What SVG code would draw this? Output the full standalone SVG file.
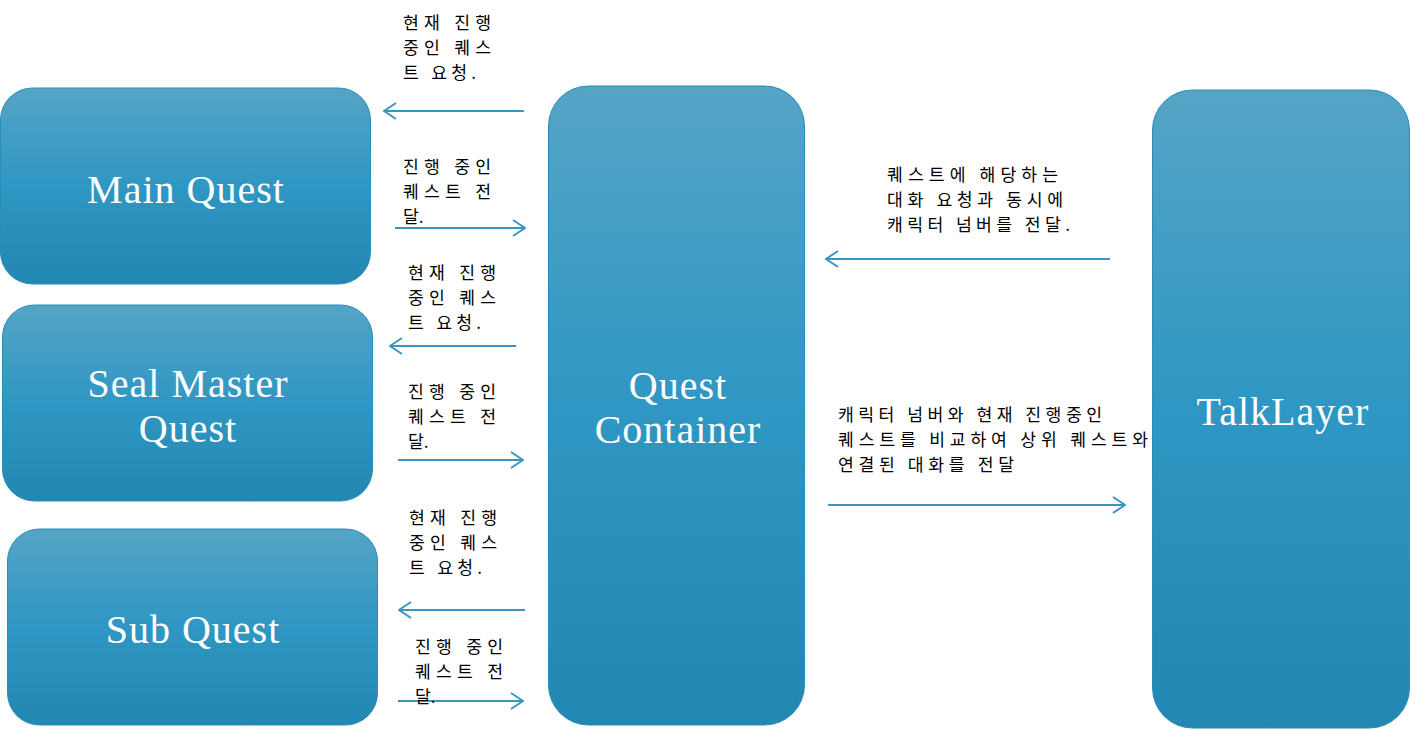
<svg xmlns="http://www.w3.org/2000/svg" width="1410" height="730" viewBox="0 0 1410 730">
<style>
.box{fill:url(#g);stroke:#2a8db8;stroke-width:1}
.lbl{font-family:"Liberation Serif","DejaVu Serif",serif;font-size:40px;letter-spacing:1px;fill:#ffffff;text-anchor:middle}
.note{font-family:"Noto Sans CJK KR","Noto Sans",sans-serif;font-size:17.2px;fill:#000000}
.arr{stroke:#3a96c0;stroke-width:2;fill:none;marker-end:url(#ah)}
</style>
<defs>
<linearGradient id="g" x1="0" y1="0" x2="0" y2="1">
<stop offset="0" stop-color="#55a4c6"/>
<stop offset="0.5" stop-color="#2f97c3"/>
<stop offset="1" stop-color="#2287b2"/>
</linearGradient>
<marker id="ah" viewBox="0 0 14 18" refX="13" refY="9" markerWidth="14" markerHeight="18" markerUnits="userSpaceOnUse" orient="auto">
<path d="M1,1 L13,9 L1,17" fill="none" stroke="#3a96c0" stroke-width="2"/>
</marker>
</defs>
<rect width="1410" height="730" fill="#ffffff"/>
<g id="main-quest">
<rect class="box" x="0.5" y="88" width="370" height="196" rx="32"/>
<text class="lbl" x="186" y="203">Main Quest</text>
</g>
<g id="seal-master-quest">
<rect class="box" x="2.5" y="305" width="370" height="196" rx="32"/>
<text class="lbl" x="188" y="397">Seal Master</text>
<text class="lbl" x="188" y="442">Quest</text>
</g>
<g id="sub-quest">
<rect class="box" x="7.5" y="529" width="370" height="196" rx="32"/>
<text class="lbl" x="193" y="643">Sub Quest</text>
</g>
<g id="quest-container">
<rect class="box" x="548.5" y="86" width="256" height="639" rx="40"/>
<text class="lbl" x="678" y="399">Quest</text>
<text class="lbl" x="678" y="443">Container</text>
</g>
<g id="talklayer">
<rect class="box" x="1152.5" y="90" width="257" height="638" rx="40"/>
<text class="lbl" x="1283" y="425">TalkLayer</text>
</g>
<g id="connectors">
<line class="arr" x1="524" y1="111" x2="384" y2="111"/>
<line class="arr" x1="395" y1="228" x2="525" y2="228"/>
<line class="arr" x1="516" y1="346" x2="390" y2="346"/>
<line class="arr" x1="398" y1="460" x2="523" y2="460"/>
<line class="arr" x1="525" y1="610" x2="399" y2="610"/>
<line class="arr" x1="398" y1="701" x2="523" y2="701"/>
<line class="arr" x1="1110" y1="259" x2="826" y2="259"/>
<line class="arr" x1="828" y1="505" x2="1125" y2="505"/>
</g>
<g id="labels">
<text class="note" x="403" y="29" textLength="88">현재 진행</text>
<text class="note" x="403" y="54" textLength="88">중인 퀘스</text>
<text class="note" x="403" y="79" textLength="73">트 요청.</text>
<text class="note" x="403" y="173" textLength="88">진행 중인</text>
<text class="note" x="403" y="198" textLength="88">퀘스트 전</text>
<text class="note" x="403" y="223">달.</text>
<text class="note" x="408" y="279" textLength="88">현재 진행</text>
<text class="note" x="408" y="304" textLength="88">중인 퀘스</text>
<text class="note" x="408" y="329" textLength="73">트 요청.</text>
<text class="note" x="408" y="398" textLength="88">진행 중인</text>
<text class="note" x="408" y="423" textLength="88">퀘스트 전</text>
<text class="note" x="408" y="448">달.</text>
<text class="note" x="409" y="524" textLength="88">현재 진행</text>
<text class="note" x="409" y="549" textLength="88">중인 퀘스</text>
<text class="note" x="409" y="574" textLength="73">트 요청.</text>
<text class="note" x="415" y="653" textLength="88">진행 중인</text>
<text class="note" x="415" y="678" textLength="88">퀘스트 전</text>
<text class="note" x="415" y="703">달.</text>
<text class="note" x="887" y="181" textLength="171">퀘스트에 해당하는</text>
<text class="note" x="887" y="206" textLength="176">대화 요청과 동시에</text>
<text class="note" x="887" y="231" textLength="183">캐릭터 넘버를 전달.</text>
<text class="note" x="838" y="421" textLength="264">캐릭터 넘버와 현재 진행중인</text>
<text class="note" x="838" y="446" textLength="310">퀘스트를 비교하여 상위 퀘스트와</text>
<text class="note" x="838" y="471" textLength="176">연결된 대화를 전달</text>
</g>
</svg>
